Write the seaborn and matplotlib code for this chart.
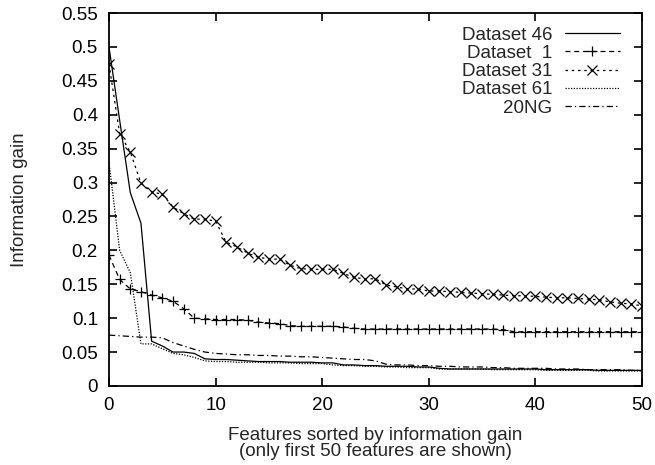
import numpy as np
import pandas as pd
import matplotlib
matplotlib.use("Agg")
import matplotlib.pyplot as plt
from matplotlib.ticker import FuncFormatter, MultipleLocator
import seaborn as sns

# Feature rank (0..50) and information gain of the top-ranked features
rank = list(range(51))

ds46 = [0.500, 0.392, 0.285, 0.240, 0.066, 0.059, 0.050, 0.050, 0.048, 0.040,
        0.039, 0.039, 0.038, 0.037, 0.036, 0.036, 0.036, 0.035, 0.035, 0.035,
        0.034, 0.034, 0.031, 0.031, 0.030, 0.030, 0.029, 0.029, 0.029, 0.028,
        0.028, 0.026, 0.025, 0.025, 0.025, 0.025, 0.025, 0.025, 0.025, 0.025,
        0.025, 0.024, 0.024, 0.024, 0.024, 0.024, 0.023, 0.023, 0.023, 0.023,
        0.023]

ds1 = [0.193, 0.157, 0.143, 0.139, 0.134, 0.130, 0.125, 0.114, 0.100, 0.099,
       0.098, 0.098, 0.098, 0.097, 0.094, 0.093, 0.092, 0.089, 0.088, 0.088,
       0.088, 0.088, 0.087, 0.085, 0.084, 0.084, 0.084, 0.084, 0.084, 0.084,
       0.084, 0.084, 0.084, 0.084, 0.084, 0.084, 0.084, 0.083, 0.080, 0.080,
       0.080, 0.080, 0.080, 0.080, 0.080, 0.080, 0.080, 0.080, 0.080, 0.080,
       0.080]

ds31 = [0.475, 0.372, 0.345, 0.299, 0.286, 0.283, 0.264, 0.254, 0.246, 0.246,
        0.243, 0.212, 0.205, 0.196, 0.190, 0.187, 0.187, 0.178, 0.173, 0.172,
        0.172, 0.172, 0.166, 0.160, 0.158, 0.158, 0.149, 0.146, 0.143, 0.143,
        0.140, 0.140, 0.139, 0.138, 0.137, 0.136, 0.135, 0.134, 0.133, 0.133,
        0.132, 0.131, 0.130, 0.130, 0.129, 0.128, 0.127, 0.124, 0.122, 0.121,
        0.118]

ds61 = [0.330, 0.200, 0.167, 0.062, 0.062, 0.055, 0.048, 0.046, 0.042, 0.037,
        0.036, 0.036, 0.035, 0.035, 0.035, 0.034, 0.034, 0.034, 0.033, 0.033,
        0.033, 0.031, 0.030, 0.030, 0.029, 0.029, 0.028, 0.028, 0.027, 0.027,
        0.027, 0.025, 0.025, 0.025, 0.025, 0.025, 0.024, 0.024, 0.024, 0.024,
        0.024, 0.023, 0.023, 0.023, 0.023, 0.023, 0.022, 0.022, 0.022, 0.022,
        0.022]

ng20 = [0.075, 0.074, 0.073, 0.072, 0.072, 0.071, 0.064, 0.059, 0.054, 0.050,
        0.048, 0.047, 0.046, 0.046, 0.045, 0.045, 0.044, 0.044, 0.043, 0.043,
        0.042, 0.041, 0.040, 0.039, 0.039, 0.037, 0.032, 0.031, 0.031, 0.030,
        0.030, 0.029, 0.029, 0.028, 0.028, 0.028, 0.027, 0.027, 0.026, 0.026,
        0.026, 0.026, 0.025, 0.025, 0.025, 0.024, 0.024, 0.024, 0.024, 0.023,
        0.023]

labels = ["Dataset 46", "Dataset  1", "Dataset 31", "Dataset 61", "20NG"]

sns.set_theme(style="ticks")
plt.rcParams["font.family"] = ["Liberation Sans", "DejaVu Sans"]
FS = 13.5
plt.rcParams["font.size"] = FS

fig = plt.figure(figsize=(6.55, 4.65), dpi=100)
ax = fig.add_axes([0.1664, 0.170, 0.8136, 0.802])

mk = dict(markersize=7, markeredgewidth=0.9, markeredgecolor="black",
          markerfacecolor="none")
styles = [
    dict(linestyle="-"),
    dict(linestyle=(0, (4, 3)), marker="+", **mk),
    dict(linestyle=(0, (2, 3)), marker="x", **mk),
    dict(linestyle=(0, (1, 1.2))),
    dict(linestyle=(0, (5, 2.5, 1, 2.5))),
]

for series, lab, st in zip([ds46, ds1, ds31, ds61, ng20], labels, styles):
    df = pd.DataFrame({"rank": rank, "gain": series})
    sns.lineplot(data=df, x="rank", y="gain", ax=ax, color="black",
                 linewidth=0.9, label=lab, **st)

ax.set_xlim(0, 50)
ax.set_ylim(0, 0.55)
ax.xaxis.set_major_locator(MultipleLocator(10))
ax.yaxis.set_major_locator(MultipleLocator(0.05))
ax.yaxis.set_major_formatter(FuncFormatter(lambda v, p: "%g" % round(v, 3)))
ax.tick_params(direction="in", length=6, width=1.2, top=True, right=True,
               labelsize=FS, colors="black", pad=8)
for sp in ax.spines.values():
    sp.set_linewidth(1.3)
    sp.set_color("black")

ax.set_xlabel("Features sorted by information gain\n(only first 50 features are shown)",
              fontsize=FS, linespacing=0.95, labelpad=9)
ax.set_ylabel("Information gain", fontsize=FS, labelpad=24)

ax.legend(loc="upper right", bbox_to_anchor=(0.959, 0.964), frameon=False,
          markerfirst=False, handlelength=2.95, handletextpad=0.67,
          labelspacing=0.06, borderpad=0, borderaxespad=0, fontsize=FS)

fig.savefig("out.png", dpi=100)
